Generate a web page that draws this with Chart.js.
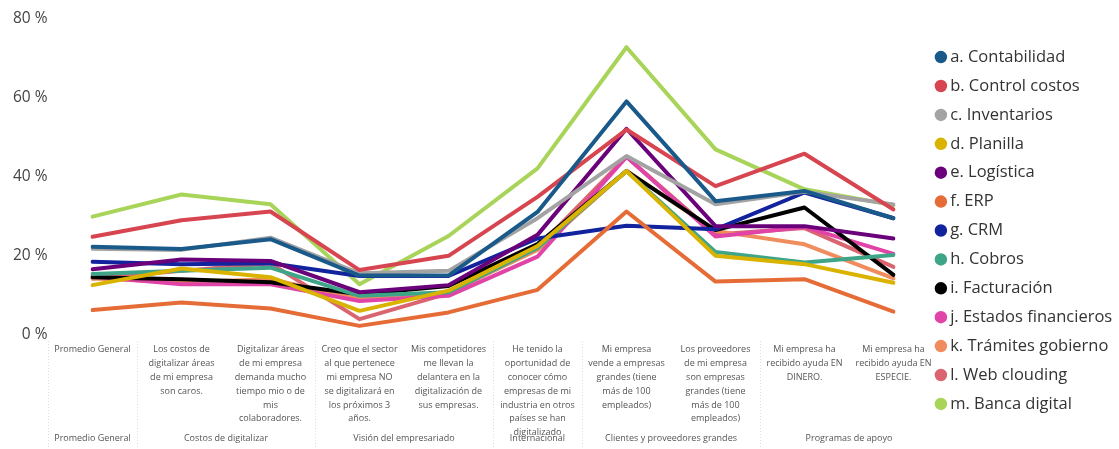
<!DOCTYPE html>
<html>
<head>
<meta charset="utf-8">
<script src="https://cdn.jsdelivr.net/npm/chart.js@4"></script>
<style>
  body { margin: 0; background: #fff; }
  #wrap { width: 1119px; height: 449px; position: relative; }
</style>
</head>
<body>
<div id="wrap"><canvas id="mychart"></canvas></div>
<script>
const categories = [
    'Promedio General',
    ['Los costos de', 'digitalizar áreas', 'de mi empresa', 'son caros.'],
    ['Digitalizar áreas', 'de mi empresa', 'demanda mucho', 'tiempo mio o de', 'mis', 'colaboradores.'],
    ['Creo que el sector', 'al que pertenece', 'mi empresa NO', 'se digitalizará en', 'los próximos 3', 'años.'],
    ['Mis competidores', 'me llevan la', 'delantera en la', 'digitalización de', 'sus empresas.'],
    ['He tenido la', 'oportunidad de', 'conocer cómo', 'empresas de mi', 'industria en otros', 'países se han', 'digitalizado'],
    ['Mi empresa', 'vende a empresas', 'grandes (tiene', 'más de 100', 'empleados)'],
    ['Los proveedores', 'de mi empresa', 'son empresas', 'grandes (tiene', 'más de 100', 'empleados)'],
    ['Mi empresa ha', 'recibido ayuda EN', 'DINERO.'],
    ['Mi empresa ha', 'recibido ayuda EN', 'ESPECIE.']
];
const groups = ['Promedio General', 'Costos de digitalizar', 'Visión del empresariado', 'Internacional', 'Clientes y proveedores grandes', 'Programas de apoyo'];
const groupSizes = [1, 2, 2, 1, 2, 2];
const yTicks = [0, 20, 40, 60, 80];

const seriesNames = ['a. Contabilidad', 'b. Control costos', 'c. Inventarios', 'd. Planilla', 'e. Logística', 'f. ERP', 'g. CRM',
    'h. Cobros', 'i. Facturación', 'j. Estados financieros', 'k. Trámites gobierno', 'l. Web clouding', 'm. Banca digital'];
const seriesColors = ['#1a5a8a', '#d64550', '#a3a3a3', '#d9b300', '#6b007b', '#e66c37', '#12239e',
    '#3fa589', '#000000', '#e044a7', '#f08c5e', '#da6470', '#a8d45a'];

const contabilidad = [22.3, 21.7, 24.2, 15.0, 15.0, 31.1, 59.0, 33.8, 36.4, 29.5];
const controlCostos = [24.8, 29.0, 31.2, 16.4, 20.0, 34.9, 51.9, 37.6, 45.8, 31.7];
const inventarios = [21.8, 21.5, 24.6, 15.6, 16.2, 29.5, 45.2, 33.0, 36.2, 33.0];
const planilla = [12.6, 16.8, 14.6, 6.1, 11.2, 22.5, 41.4, 20.0, 17.9, 13.2];
const logistica = [16.6, 19.1, 18.7, 10.8, 12.6, 25.3, 52.1, 27.5, 27.5, 24.4];
const erp = [6.3, 8.2, 6.7, 2.3, 5.7, 11.4, 31.2, 13.5, 14.1, 5.9];
const crm = [18.5, 17.9, 18.1, 14.9, 14.9, 24.4, 27.6, 26.7, 36.0, 29.5];
const cobros = [15.4, 16.2, 17.0, 9.9, 10.8, 22.0, 41.4, 21.0, 18.3, 20.2];
const facturacion = [14.6, 14.1, 13.3, 10.3, 12.4, 23.0, 41.4, 26.5, 32.2, 15.2];
const estadosFinancieros = [14.8, 12.8, 12.8, 8.6, 9.9, 19.8, 45.0, 24.9, 27.3, 20.5];
const tramitesGobierno = [14.3, 13.3, 14.1, 9.1, 10.8, 21.5, 41.5, 26.3, 22.9, 14.3];
const webClouding = [14.3, 16.2, 18.1, 4.0, 10.5, 22.0, 45.0, 25.4, 27.0, 17.2];
const bancaDigital = [29.9, 35.5, 33.0, 12.8, 25.0, 42.1, 72.7, 46.9, 36.8, 32.8];

const seriesValues = [contabilidad, controlCostos, inventarios, planilla, logistica, erp, crm,
    cobros, facturacion, estadosFinancieros, tramitesGobierno, webClouding, bancaDigital];

const FONT = "'Open Sans', 'Noto Sans', sans-serif";

// group labels + dotted separators under the x axis
const groupAxis = {
    id: 'groupAxis',
    afterDraw(chart) {
        const ctx = chart.ctx;
        const x = chart.scales.x;
        const step = x.getPixelForValue(1) - x.getPixelForValue(0);
        ctx.save();
        ctx.strokeStyle = '#dcdcdc';
        ctx.lineWidth = 1;
        ctx.setLineDash([1, 2]);
        ctx.font = '9px ' + FONT;
        ctx.fillStyle = '#555';
        ctx.textAlign = 'center';
        ctx.textBaseline = 'middle';
        let start = 0;
        groups.forEach((g, i) => {
            const left = x.getPixelForValue(start) - step / 2;
            ctx.beginPath();
            ctx.moveTo(Math.round(left) + 0.5, 341);
            ctx.lineTo(Math.round(left) + 0.5, 449);
            ctx.stroke();
            const end = start + groupSizes[i] - 1;
            const cx = (x.getPixelForValue(start) + x.getPixelForValue(end)) / 2;
            ctx.fillText(g, cx, 438);
            start = end + 1;
        });
        ctx.restore();
    }
};

function noPad(s) {
    s.paddingTop = 0;
    s.paddingBottom = 0;
    s.paddingLeft = 0;
    s.paddingRight = 0;
}

new Chart(document.getElementById('mychart'), {
    type: 'line',
    data: {
        labels: categories,
        datasets: seriesNames.map((name, i) => ({
            label: name,
            data: seriesValues[i],
            borderColor: seriesColors[i],
            backgroundColor: seriesColors[i],
            borderWidth: 4,
            pointRadius: 0,
            pointHoverRadius: 0,
            tension: 0,
            borderJoinStyle: 'round',
            borderCapStyle: 'round',
            yAxisID: 'y'
        }))
    },
    options: {
        responsive: true,
        maintainAspectRatio: false,
        animation: false,
        layout: { padding: { top: 12, right: 0, left: 0, bottom: 0 } },
        plugins: {
            legend: {
                position: 'right',
                maxWidth: 191.5,
                labels: {
                    usePointStyle: true,
                    pointStyle: 'circle',
                    boxWidth: 2,
                    boxHeight: 6,
                    padding: 12.4,
                    color: '#333',
                    font: { family: FONT, size: 16.5 }
                }
            },
            tooltip: { enabled: false }
        },
        scales: {
            x: {
                offset: false,
                grid: { display: false, drawTicks: false },
                border: { display: false },
                ticks: {
                    autoSkip: false,
                    maxRotation: 0,
                    minRotation: 0,
                    padding: 8,
                    color: '#555',
                    font: { family: FONT, size: 9, lineHeight: 1.53 }
                },
                afterFit(s) { s.height = 114; noPad(s); }
            },
            y: {
                min: 0,
                max: 80,
                afterBuildTicks(s) { s.ticks = yTicks.map(v => ({ value: v })); },
                grid: { display: false, drawTicks: false },
                border: { display: false },
                ticks: {
                    padding: 45,
                    color: '#444',
                    font: { family: FONT, size: 15.5 },
                    callback: v => v + ' %'
                },
                afterFit(s) { s.width = 92.5; noPad(s); s.paddingTop = 18.3; }
            },
            yRight: {
                position: 'right',
                grid: { display: false, drawTicks: false },
                border: { display: false },
                ticks: { display: false },
                afterFit(s) { s.width = 34; noPad(s); }
            }
        }
    },
    plugins: [groupAxis]
});
</script>
</body>
</html>
